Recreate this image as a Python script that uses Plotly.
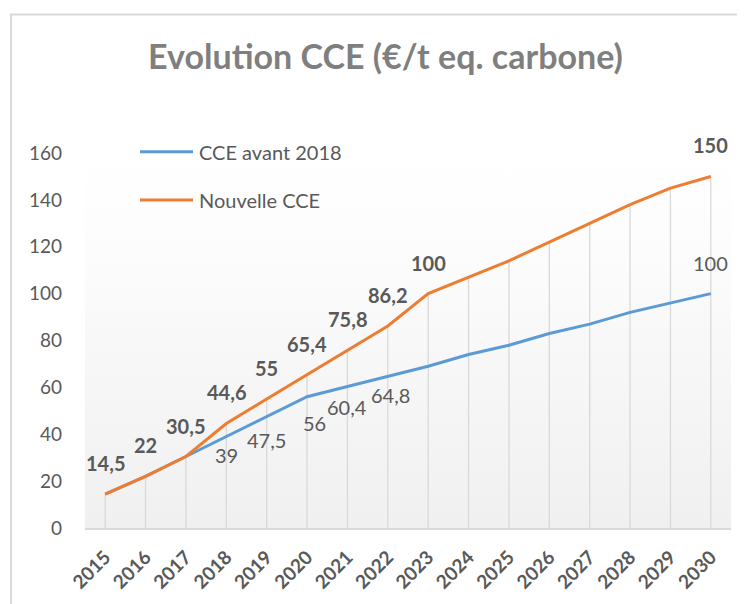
import base64
import plotly.graph_objects as go

# ---------------- data ----------------
years = list(range(2015, 2031))
cce_avant_2018 = [14.5, 22, 30.5, 39, 47.5, 56, 60.4, 64.8, 69, 74, 78, 83, 87, 92, 96, 100]
nouvelle_cce = [14.5, 22, 30.5, 44.6, 55, 65.4, 75.8, 86.2, 100, 107, 114, 122, 130, 138, 145, 150]
y_ticks = [0, 20, 40, 60, 80, 100, 120, 140, 160]

# which points carry a data label, and pixel offsets of those labels
orange_labelled = [2015, 2016, 2017, 2018, 2019, 2020, 2021, 2022, 2023, 2030]
blue_labelled = [2018, 2019, 2020, 2021, 2022, 2030]
blue_label_shift = {2018: (0, -18), 2019: (0, -23), 2020: (7, -26),
                    2021: (0, -21), 2022: (3, -19), 2030: (0, 31)}

BLUE = "#5B9BD5"
ORANGE = "#ED7D31"
TXT = "#595959"
FONT = "Lato"

# the page body has an 8px margin: figure drawn at (8, 8)
OFF = 8
W, H = 745 - OFF, 604 - OFF
# plot area in page pixels (reference), converted to figure pixels
L, R, T, B = 85 - OFF, 731 - OFF, 153 - OFF, 528 - OFF


def px_x(p):
    return (p - OFF - L) / (R - L)


def px_y(p):
    return (B - (p - OFF)) / (B - T)


def fmt(v):
    s = ("%g" % v)
    return s.replace(".", ",")


fig = go.Figure()

# drop lines from the axis to the highest series
dx, dy = [], []
for yr, a, b in zip(years, cce_avant_2018, nouvelle_cce):
    dx += [yr, yr, None]
    dy += [0, max(a, b), None]
fig.add_trace(go.Scatter(x=dx, y=dy, mode="lines", line=dict(color="#d9d9d9", width=1.3),
                         hoverinfo="skip", showlegend=False))

fig.add_trace(go.Scatter(x=years, y=cce_avant_2018, mode="lines", name="CCE avant 2018",
                         line=dict(color=BLUE, width=3), showlegend=False))
fig.add_trace(go.Scatter(x=years, y=nouvelle_cce, mode="lines", name="Nouvelle CCE",
                         line=dict(color=ORANGE, width=3), showlegend=False))

annotations = []
for yr, v in zip(years, nouvelle_cce):
    if yr in orange_labelled:
        annotations.append(dict(x=yr, y=v, xref="x", yref="y", text="<b>" + fmt(v) + "</b>",
                                showarrow=False, yshift=31, yanchor="middle",
                                font=dict(family=FONT, size=20, color=TXT)))
for yr, v in zip(years, cce_avant_2018):
    if yr in blue_labelled:
        sx, sy = blue_label_shift[yr]
        annotations.append(dict(x=yr, y=v, xref="x", yref="y", text=fmt(v),
                                showarrow=False, xshift=sx, yshift=sy, yanchor="middle",
                                font=dict(family=FONT, size=20, color=TXT)))

# manual legend
shapes = []
for name, col, py in [("CCE avant 2018", BLUE, 151.7), ("Nouvelle CCE", ORANGE, 200)]:
    shapes.append(dict(type="line", xref="paper", yref="paper", x0=px_x(140), x1=px_x(193),
                       y0=px_y(py), y1=px_y(py), line=dict(color=col, width=3)))
    annotations.append(dict(x=px_x(197), y=px_y(py), xref="paper", yref="paper", text=name,
                            xanchor="left", yanchor="middle", showarrow=False,
                            font=dict(family=FONT, size=20, color=TXT)))

# chart border
shapes.append(dict(type="rect", xref="paper", yref="paper", x0=px_x(11), y0=px_y(14.5),
                   x1=px_x(780), y1=px_y(650), line=dict(color="#d9d9d9", width=2),
                   fillcolor="rgba(0,0,0,0)", layer="below"))

svg = ('<svg xmlns="http://www.w3.org/2000/svg" width="10" height="100" viewBox="0 0 10 100" '
       'preserveAspectRatio="none"><defs><linearGradient id="g" x1="0" y1="0" x2="0" y2="1">'
       '<stop offset="0" stop-color="#ffffff"/><stop offset="0.2" stop-color="#fdfdfd"/>'
       '<stop offset="1" stop-color="#f0f0f0"/></linearGradient></defs>'
       '<rect width="10" height="100" fill="url(#g)"/></svg>')
src = "data:image/svg+xml;base64," + base64.b64encode(svg.encode()).decode()

fig.update_layout(
    width=W, height=H,
    margin=dict(l=L, r=W - R, t=T, b=H - B, pad=0),
    paper_bgcolor="white",
    plot_bgcolor="rgba(0,0,0,0)",
    title=dict(text="<b>Evolution CCE (€/t eq. carbone)</b>", x=(385.5 - OFF) / W, xanchor="center",
               xref="container", y=1 - (57 - OFF) / H, yref="container",
               yanchor="middle", font=dict(family=FONT, size=34, color="#7f7f7f")),
    annotations=annotations,
    shapes=shapes,
    images=[dict(source=src, xref="paper", yref="paper", x=0, y=1, sizex=1, sizey=1,
                 sizing="stretch", xanchor="left", yanchor="top", layer="below")],
    showlegend=False,
)
fig.update_xaxes(range=[2014.5, 2030.5], tickmode="array", tickvals=years,
                 ticktext=[str(y) for y in years], tickangle=-45,
                 tickfont=dict(family=FONT, size=19, color=TXT, weight="bold"),
                 showgrid=False, zeroline=False, showline=True, linecolor="#d9d9d9", linewidth=1.5,
                 ticks="", ticklabelstandoff=9)
fig.update_yaxes(range=[0, 160], tickmode="array", tickvals=y_ticks,
                 tickfont=dict(family=FONT, size=19, color=TXT),
                 showgrid=False, zeroline=False, showline=False, ticks="",
                 ticklabelstandoff=22)

fig.write_html("out.html")
